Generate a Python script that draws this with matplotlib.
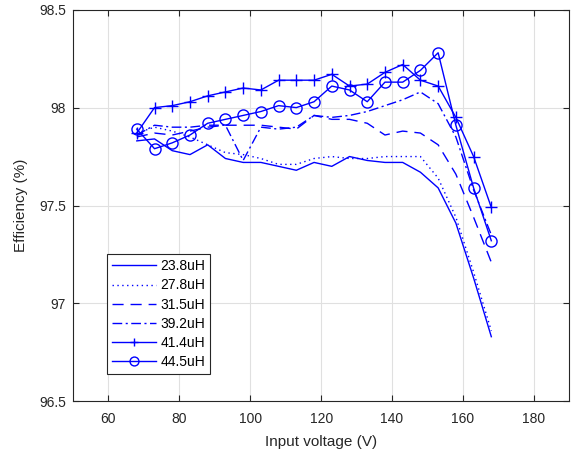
import numpy as np
import matplotlib
matplotlib.use("Agg")
import matplotlib.pyplot as plt

plt.rcParams["font.family"] = ["Liberation Sans", "DejaVu Sans"]

# input voltage (V)
vin = [68, 73, 78, 83, 88, 93, 98, 103, 108, 113, 118, 123, 128, 133, 138, 143, 148, 153, 158, 163, 168]

# efficiency (%) per inductance
eff_238 = [97.83, 97.84, 97.78, 97.76, 97.81, 97.74, 97.72, 97.72, 97.70, 97.68, 97.72, 97.70, 97.75,
           97.73, 97.72, 97.72, 97.67, 97.59, 97.41, 97.13, 96.83]
eff_278 = [97.87, 97.90, 97.88, 97.85, 97.81, 97.77, 97.76, 97.74, 97.71, 97.71, 97.74, 97.75, 97.74,
           97.74, 97.75, 97.75, 97.75, 97.64, 97.44, 97.16, 96.86]
eff_315 = [97.85, 97.87, 97.86, 97.88, 97.90, 97.91, 97.91, 97.91, 97.90, 97.89, 97.96, 97.94, 97.94,
           97.92, 97.86, 97.88, 97.87, 97.81, 97.66, 97.44, 97.21]
eff_392 = [97.86, 97.91, 97.90, 97.90, 97.91, 97.91, 97.73, 97.90, 97.89, 97.90, 97.96, 97.95, 97.96,
           97.98, 98.01, 98.04, 98.08, 98.02, 97.85, 97.58, 97.35]
eff_414 = [97.87, 98.00, 98.01, 98.03, 98.06, 98.08, 98.10, 98.09, 98.14, 98.14, 98.14, 98.17, 98.11,
           98.12, 98.18, 98.22, 98.14, 98.11, 97.95, 97.75, 97.49]
eff_445 = [97.89, 97.79, 97.82, 97.86, 97.92, 97.94, 97.96, 97.98, 98.01, 98.00, 98.03, 98.11, 98.09,
           98.03, 98.13, 98.13, 98.19, 98.28, 97.91, 97.59, 97.32]

labels = ["23.8uH", "27.8uH", "31.5uH", "39.2uH", "41.4uH", "44.5uH"]

fig = plt.figure(figsize=(5.72, 4.53), dpi=100)
ax = fig.add_axes([0.1276, 0.1141, 0.8677, 0.8645])

c = "#0000ff"
ax.plot(vin, eff_238, color=c, lw=1.0, ls="-", label=labels[0])
ax.plot(vin, eff_278, color=c, lw=1.0, ls=(0, (1, 2.5)), label=labels[1])
ax.plot(vin, eff_315, color=c, lw=1.0, ls=(0, (8, 5)), label=labels[2])
ax.plot(vin, eff_392, color=c, lw=1.0, ls=(0, (7, 2.5, 1.5, 2.5)), label=labels[3])
ax.plot(vin, eff_414, color=c, lw=1.0, ls="-", marker="+", ms=8, mew=1.0, label=labels[4])
ax.plot(vin, eff_445, color=c, lw=1.0, ls="-", marker="o", ms=8, mew=1.0, mfc="none", label=labels[5])

ax.set_xlim(50, 190)
ax.set_ylim(96.5, 98.5)
ax.set_xticks(np.arange(60, 181, 20))
ax.set_yticks([96.5, 97, 97.5, 98, 98.5])
ax.set_yticklabels(["96.5", "97", "97.5", "98", "98.5"])
ax.grid(True, color="#e0e0e0", lw=0.8)
ax.set_axisbelow(True)
ax.tick_params(direction="in", length=4, labelsize=10, colors="#262626", top=True, right=True)
ax.tick_params(axis="x", pad=8)
ax.tick_params(axis="y", pad=5)
for s in ax.spines.values():
    s.set_color("#262626")
    s.set_linewidth(0.8)

ax.set_xlabel("Input voltage (V)", fontsize=11, color="#262626", labelpad=6)
ax.set_ylabel("Efficiency (%)", fontsize=11, color="#262626", labelpad=8)

leg = ax.legend(loc="lower left", bbox_to_anchor=(0.068, 0.07), borderaxespad=0, fontsize=10,
                handlelength=3.2, handletextpad=0.3, labelspacing=0.37, borderpad=0.35,
                markerscale=0.8, fancybox=False, framealpha=1)
leg.get_frame().set_edgecolor("#262626")
leg.get_frame().set_linewidth(0.8)

fig.savefig("out.png", dpi=100)
